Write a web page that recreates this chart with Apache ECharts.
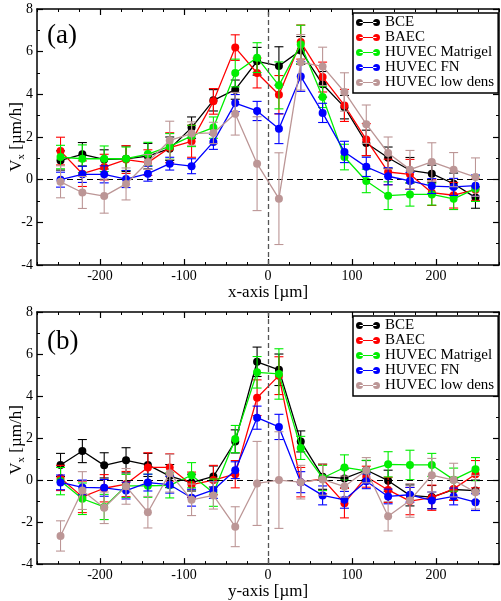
<!DOCTYPE html>
<html>
<head>
<meta charset="utf-8">
<script src="https://cdn.jsdelivr.net/npm/echarts@6/dist/echarts.min.js"></script>
<style>html,body{margin:0;padding:0;background:#fff}#c{width:501px;height:601px}</style>
</head>
<body>
<div id="c"></div>
<script>
// ---- data ----
const xPos = [-247,-221,-195,-169,-143,-117,-91,-65,-39,-13,13,39,65,91,117,143,169,195,221,247];
const seriesNames = ['BCE','BAEC','HUVEC Matrigel','HUVEC FN','HUVEC low dens'];
const xTickLabels = [-200,-100,0,100,200];

// panel (a): x-axis profile
const bceA   = [0.9,1.19,0.95,0.98,1.1,1.45,2.44,3.72,4.22,5.55,5.33,6.06,4.47,3.4,1.72,1.03,0.44,0.28,-0.19,-0.84];
const bceAErr= [0.45,0.55,0.45,0.6,0.6,0.55,0.5,0.5,0.45,0.65,0.9,0.65,0.6,0.55,0.6,0.5,0.6,0.4,0.5,0.5];
const baecA   = [1.34,0.28,0.59,0.94,0.8,1.5,1.8,3.67,6.19,5.0,3.98,6.45,4.81,3.48,1.88,0.36,0.25,-0.61,-0.73,-0.47];
const baecAErr= [0.65,0.6,0.6,0.65,0.6,0.7,0.75,0.6,0.6,0.7,0.9,0.8,0.7,0.75,0.75,0.6,0.7,0.6,0.6,0.5];
const matA   = [1.06,0.98,0.98,0.98,1.2,1.56,2.05,2.44,5.0,5.72,4.42,6.34,3.88,1.06,-0.06,-0.75,-0.69,-0.69,-0.9,-0.42];
const matAErr= [0.55,0.65,0.6,0.55,0.55,0.6,0.5,0.5,0.65,0.7,1.1,0.9,0.5,0.6,0.55,0.65,0.55,0.5,0.5,0.6];
const fnA   = [0,0.25,0.25,0.03,0.28,0.75,0.63,1.77,3.59,3.22,2.39,4.84,3.13,1.3,0.6,0.16,-0.06,-0.3,-0.34,-0.28];
const fnAErr= [0.35,0.38,0.4,0.4,0.35,0.3,0.35,0.35,0.4,0.45,0.7,0.7,0.45,0.5,0.45,0.4,0.4,0.35,0.4,0.5];
const lowA   = [-0.1,-0.6,-0.77,-0.2,0.83,1.84,2.16,2.19,3.09,0.75,-0.89,5.5,5.31,4.11,2.6,1.25,0.47,0.83,0.47,0.12];
const lowAErr= [0.75,0.75,0.8,0.75,0.35,0.9,0.55,0.5,1.0,2.2,2.15,1.3,0.9,0.9,0.9,0.75,0.9,0.9,0.8,0.9];

// panel (b): y-axis profile
const bceB   = [0.72,1.38,0.7,0.94,0.72,0.19,-0.12,0.17,1.84,5.63,5.25,1.84,0.16,0.08,0.48,-0.03,-0.73,-0.81,-0.45,-0.5];
const bceBErr= [0.55,0.55,0.6,0.6,0.55,0.55,0.4,0.5,0.55,0.7,0.75,0.5,0.6,0.45,0.45,0.5,0.5,0.55,0.5,0.5];
const baecB   = [0.1,-0.8,-0.39,-0.19,0.6,0.6,-0.22,0.0,0.28,3.92,4.97,-0.1,0.05,-1.1,0.16,-0.47,-1.0,-0.84,-0.42,0.28];
const baecBErr= [0.6,0.75,0.65,0.6,0.7,0.65,0.6,0.7,0.65,0.85,0.9,0.7,0.7,0.7,0.5,0.6,0.65,0.6,0.55,0.65];
const matB   = [-0.05,-0.89,-1.28,-0.28,-0.27,-0.25,0.23,-0.6,1.95,5.13,5.05,1.53,0.1,0.6,0.44,0.75,0.72,0.72,0.02,0.52];
const matBErr= [0.65,0.75,0.6,0.55,0.55,0.6,0.6,0.65,0.65,0.75,1.2,0.55,0.6,0.6,0.5,0.6,0.7,0.55,0.55,0.55];
const fnB   = [-0.11,-0.35,-0.37,-0.5,-0.12,-0.22,-0.84,-0.47,0.47,2.97,2.53,-0.1,-0.73,-0.94,-0.06,-0.78,-0.7,-0.97,-0.78,-1.05];
const fnBErr= [0.35,0.35,0.4,0.4,0.4,0.4,0.4,0.4,0.4,0.55,0.6,0.5,0.45,0.4,0.35,0.35,0.35,0.4,0.4,0.4];
const lowB   = [-2.66,-0.5,-1.32,-0.3,-1.53,0.33,-0.94,-0.73,-2.22,-0.16,0.0,-0.1,0.03,-0.31,0.47,-1.72,-0.97,0.23,0.0,-0.58];
const lowBErr= [0.72,0.9,0.75,0.85,0.75,0.9,0.75,0.65,0.95,2.0,2.3,0.8,0.75,0.5,0.6,0.7,0.8,0.8,0.8,0.8];

// ---- styling ----
const colors = ['#000000','#ff0000','#00ee00','#0000ff','#bc9696'];
const FONT = "'Liberation Serif','Times New Roman',serif";
const panels = [
  {vals:[bceA,baecA,matA,fnA,lowA], errs:[bceAErr,baecAErr,matAErr,fnAErr,lowAErr], title:'x-axis [µm]', tag:'(a)', top:9},
  {vals:[bceB,baecB,matB,fnB,lowB], errs:[bceBErr,baecBErr,matBErr,fnBErr,lowBErr], title:'y-axis [µm]', tag:'(b)', top:312}
];
const GL = 37, GW = 462, GH = 256;
const minor25 = [];
for (let v = -275; v <= 275; v += 25) minor25.push(v);

const grids = [], xAxes = [], yAxes = [], series = [], legends = [], graphics = [];
panels.forEach((p, gi) => {
  grids.push({left: GL, top: p.top, width: GW, height: GH});
  const xBase = {type:'value', gridIndex: gi, min:-275, max:275, interval:25, splitLine:{show:false}};
  const xi = xAxes.length;
  xAxes.push(Object.assign({}, xBase, {
    position:'bottom',
    axisLine:{show:true, onZero:false, lineStyle:{color:'#000', width:1.5}},
    axisTick:{show:true, inside:true, length:6, customValues:xTickLabels, lineStyle:{color:'#000', width:1.2}},
    axisLabel:{show:true, customValues:xTickLabels, margin:4, color:'#000', fontSize:14, fontFamily:FONT},
    name:p.title, nameLocation:'middle', nameGap:17,
    nameTextStyle:{color:'#000', fontSize:17, fontFamily:FONT}
  }));
  xAxes.push(Object.assign({}, xBase, {
    position:'bottom', axisLine:{show:false, onZero:false},
    axisTick:{show:true, inside:true, length:3, customValues:minor25, lineStyle:{color:'#000', width:1}},
    axisLabel:{show:false}
  }));
  xAxes.push(Object.assign({}, xBase, {
    position:'top',
    axisLine:{show:true, onZero:false, lineStyle:{color:'#000', width:1.5}},
    axisTick:{show:true, inside:true, length:6, customValues:xTickLabels, lineStyle:{color:'#000', width:1.2}},
    axisLabel:{show:false}
  }));
  xAxes.push(Object.assign({}, xBase, {
    position:'top', axisLine:{show:false, onZero:false},
    axisTick:{show:true, inside:true, length:3, customValues:minor25, lineStyle:{color:'#000', width:1}},
    axisLabel:{show:false}
  }));
  const yi = yAxes.length;
  const yBase = {type:'value', gridIndex: gi, min:-4, max:8, interval:2, splitLine:{show:false},
    minorTick:{show:true, splitNumber:2, length:3, lineStyle:{color:'#000', width:1}},
    axisTick:{show:true, inside:true, length:6, lineStyle:{color:'#000', width:1.2}},
    axisLine:{show:true, onZero:false, lineStyle:{color:'#000', width:1.5}}};
  yAxes.push(Object.assign({}, yBase, {
    position:'left',
    axisLabel:{show:true, margin:4, color:'#000', fontSize:14, fontFamily:FONT}
  }));
  yAxes.push(Object.assign({}, yBase, {position:'right', axisLabel:{show:false}}));

  series.push({
    type:'line', xAxisIndex: xi, yAxisIndex: yi, data: [], silent:true, z:1,
    markLine:{silent:true, symbol:'none', animation:false, label:{show:false},
      data:[
        {xAxis:0, lineStyle:{color:'#555', type:[5,3], width:1.3}},
        {yAxis:0, lineStyle:{color:'#000', type:[6,4], width:1.2}}
      ]}
  });

  seriesNames.forEach((nm, si) => {
    const vals = p.vals[si], errs = p.errs[si];
    const errData = xPos.map((x, k) => [x, vals[k] - errs[k], vals[k] + errs[k]]);
    series.push({
      type:'custom', name: nm + ' err', xAxisIndex: xi, yAxisIndex: yi, z: 2 + si,
      silent:true, animation:false,
      encode:{x:0, y:[1,2]},
      data: errData,
      renderItem: (params, api) => {
        const x = api.value(0), lo = api.value(1), hi = api.value(2);
        const a = api.coord([x, lo]), b = api.coord([x, hi]);
        const hw = 4.5;
        const st = {stroke: colors[si], lineWidth: 1.1};
        return {type:'group', children:[
          {type:'line', shape:{x1:a[0], y1:a[1], x2:b[0], y2:b[1]}, style:st},
          {type:'line', shape:{x1:a[0]-hw, y1:a[1], x2:a[0]+hw, y2:a[1]}, style:st},
          {type:'line', shape:{x1:b[0]-hw, y1:b[1], x2:b[0]+hw, y2:b[1]}, style:st}
        ]};
      }
    });
    series.push({
      type:'line', name: nm, xAxisIndex: xi, yAxisIndex: yi, z: 2 + si,
      data: xPos.map((x, k) => [x, vals[k]]),
      symbol:'circle', symbolSize:8, showSymbol:true,
      lineStyle:{color:colors[si], width:1.3},
      itemStyle:{color:colors[si], borderWidth:0},
      animation:false, silent:true
    });
  });

  legends.push({
    show:true, orient:'vertical', left: 353, top: p.top + 4,
    data: seriesNames.slice(),
    icon:'path://M0,3.5a3.5,3.5 0 1,0 7,0a3.5,3.5 0 1,0 -7,0z M3.5,2.9h17v1.2h-17z M17,3.5a3.5,3.5 0 1,0 7,0a3.5,3.5 0 1,0 -7,0z',
    itemWidth:24, itemHeight:7, itemGap:0,
    padding:[2,4,3,3], borderColor:'#000', borderWidth:1.5, backgroundColor:'#fff',
    selectedMode:false,
    textStyle:{color:'#000', fontSize:15, lineHeight:15, fontFamily:FONT, padding:[0,0,0,0]}
  });

  graphics.push({type:'text', left: 47, top: p.top + (gi === 0 ? 13 : 16), z:100,
    style:{text:p.tag, font:"27px " + FONT, fill:'#000'}});
  graphics.push({type:'text', x: 17, y: p.top + GH / 2, rotation: Math.PI / 2, z:100,
    style:{text:'{a|V}{b|x}{a| [µm/h]}', align:'center', verticalAlign:'middle',
      fontSize:17, fontFamily:FONT, fill:'#000',
      rich:{a:{fontSize:17, lineHeight:20, fontFamily:FONT, fill:'#000'},
            b:{fontSize:11, lineHeight:10, verticalAlign:'bottom', fontFamily:FONT, fill:'#000'}}}});
});

const chart = echarts.init(document.getElementById('c'), null, {renderer:'canvas'});
chart.setOption({
  backgroundColor:'#fff',
  animation:false,
  grid: grids, xAxis: xAxes, yAxis: yAxes, series: series, legend: legends, graphic: graphics
});
</script>
</body>
</html>
